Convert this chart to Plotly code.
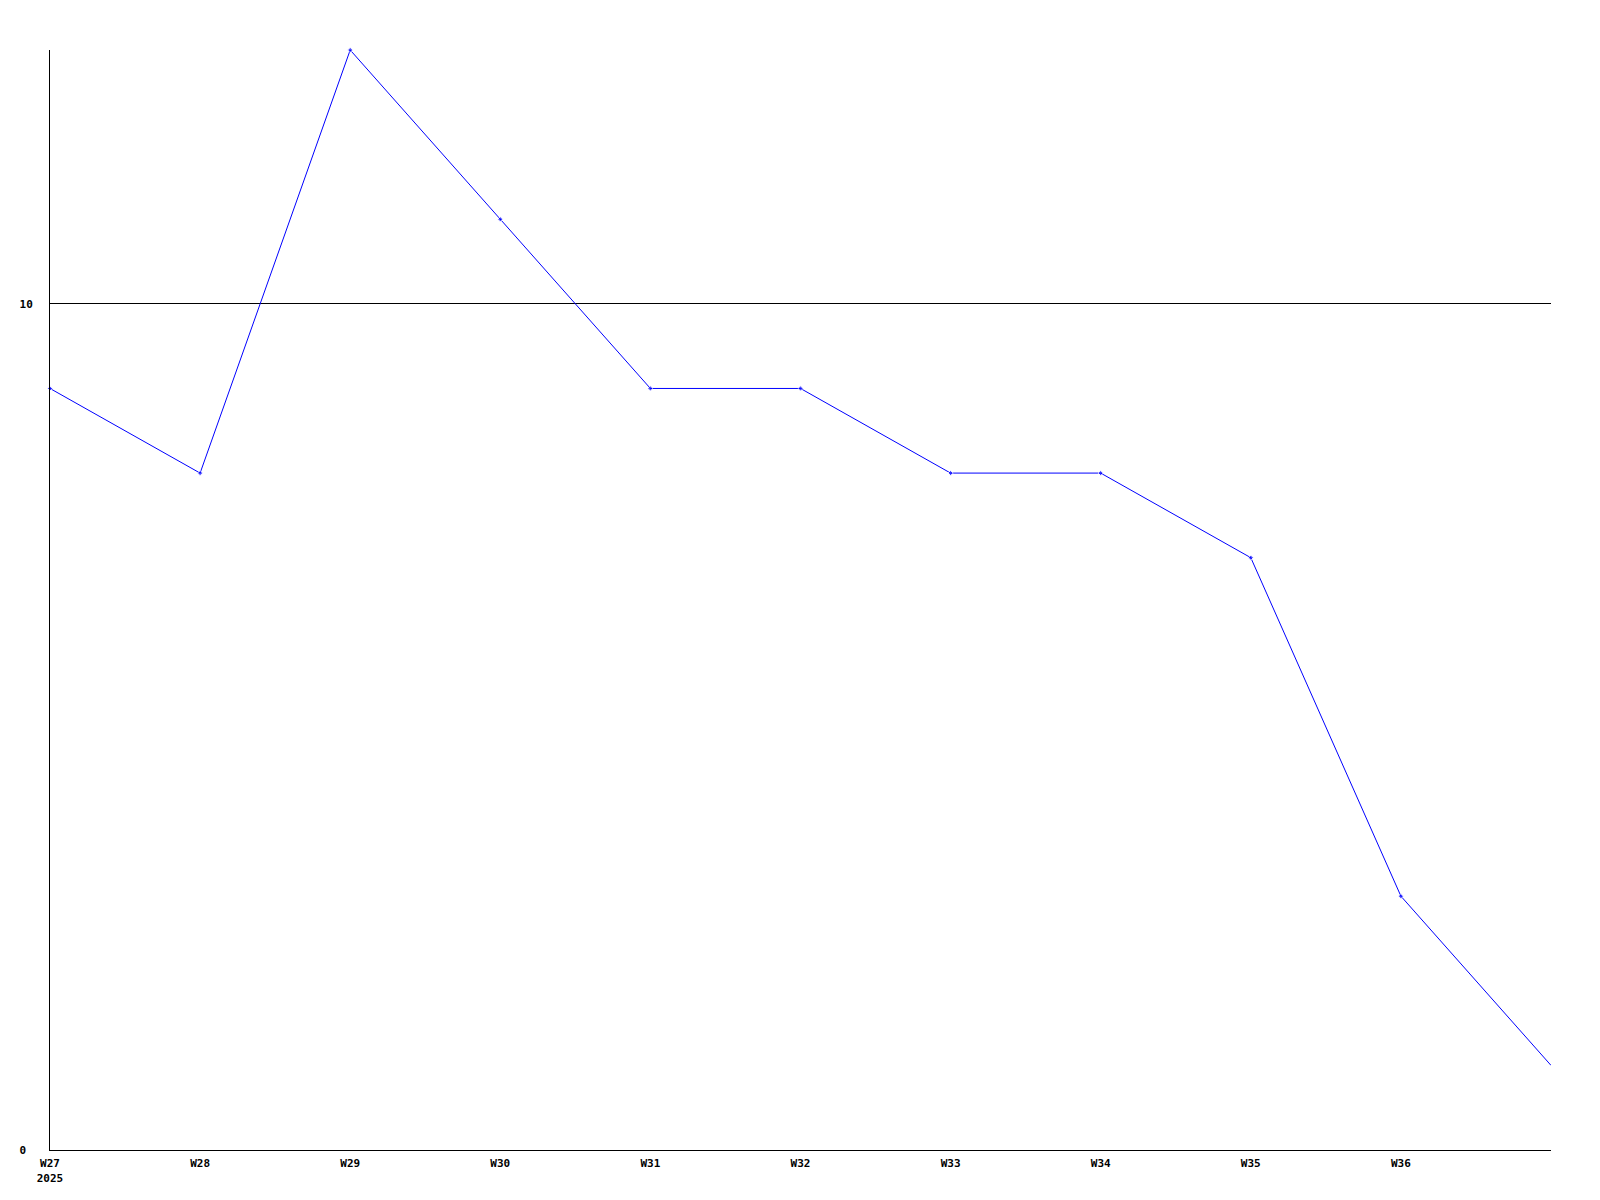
import plotly.graph_objects as go

weeks = ["W27", "W28", "W29", "W30", "W31", "W32", "W33", "W34", "W35", "W36", "W37"]
values = [9, 8, 13, 11, 9, 9, 8, 8, 7, 3, 1]
tick_weeks = ["W27", "W28", "W29", "W30", "W31", "W32", "W33", "W34", "W35", "W36"]
tick_text = ["W27<br>2025", "W28", "W29", "W30", "W31", "W32", "W33", "W34", "W35", "W36"]
y_ticks = [0, 10]
y_tick_text = ["0\u00a0", "10"]

# the last point (at the right edge) is drawn without a marker
marker_sizes = [4] * (len(values) - 1) + [0]

fig = go.Figure(go.Scatter(
    x=weeks, y=values, mode="lines+markers",
    line=dict(color="#0000ff", width=1),
    marker=dict(color="#0000ff", size=marker_sizes, symbol="diamond"),
    cliponaxis=False,
))

font = dict(family="DejaVu Sans Mono", size=11, color="black")
fig.update_layout(
    width=1600, height=1200,
    margin=dict(l=42, r=57, t=42, b=58),
    plot_bgcolor="white", paper_bgcolor="white",
    showlegend=False,
    font=font,
)
fig.update_xaxes(
    type="category", range=[0, 10],
    tickmode="array", tickvals=tick_weeks, ticktext=tick_text,
    showgrid=False, showline=True, linecolor="black", linewidth=1,
    ticks="", ticklabelstandoff=3,
    tickfont=dict(family="DejaVu Sans Mono", size=11, color="black", weight="bold"),
    zeroline=False,
)
fig.update_yaxes(
    range=[0, 13], tickmode="array", tickvals=y_ticks, ticktext=y_tick_text,
    showgrid=True, gridcolor="black", gridwidth=1,
    showline=True, linecolor="black", linewidth=1,
    ticks="", ticklabelstandoff=14,
    tickfont=dict(family="DejaVu Sans Mono", size=11, color="black", weight="bold"),
    zeroline=False,
)
fig.write_html("out.html")
